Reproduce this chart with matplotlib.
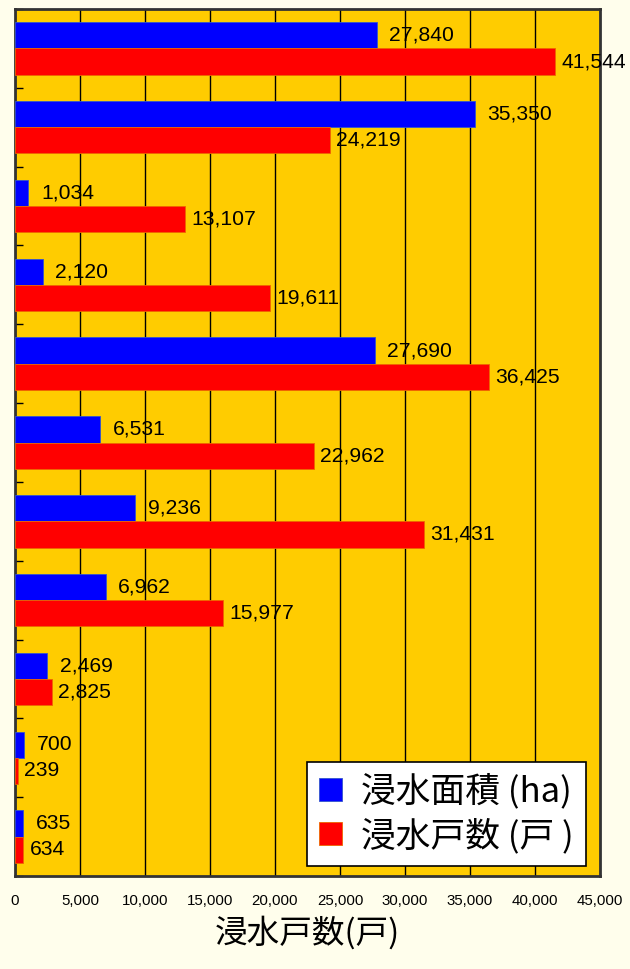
import matplotlib
matplotlib.use("Agg")
import matplotlib.pyplot as plt
import numpy as np

area_ha = [27840, 35350, 1034, 2120, 27690, 6531, 9236, 6962, 2469, 700, 635]
houses = [41544, 24219, 13107, 19611, 36425, 22962, 31431, 15977, 2825, 239, 634]
xticks = [0, 5000, 10000, 15000, 20000, 25000, 30000, 35000, 40000, 45000]
label_area = "浸水面積 (ha)"
label_houses = "浸水戸数 (戸 )"
xlabel = "浸水戸数(戸)"

plt.rcParams['font.family'] = ['Liberation Sans', 'Noto Sans CJK JP', 'DejaVu Sans']

fig = plt.figure(figsize=(6.3, 9.69), dpi=100, facecolor='#FFFEEC')
ax = fig.add_axes([15/630, 1-876/969, 585/630, 867/969])
ax.set_facecolor('#FFCC00')

n = len(area_ha)
y = np.arange(n)
h = 0.333
b1 = ax.barh(y - h/2, area_ha, height=h, color='#0000FF', edgecolor='#3355cc', linewidth=0.6, label=label_area, zorder=3)
b2 = ax.barh(y + h/2, houses, height=h, color='#FF0000', edgecolor='#ee6600', linewidth=0.6, label=label_houses, zorder=3)

ax.set_xlim(0, 45000)
ax.set_ylim(n - 0.5, -0.5)

ax.set_xticks(xticks)
ax.set_xticklabels([f"{v:,}" for v in xticks], fontsize=10.8)
ax.tick_params(axis='x', length=0, pad=13)
ax.set_yticks([])
ax.set_yticks(np.arange(n + 1) - 0.5, minor=True)
ax.tick_params(axis='y', which='minor', direction='in', length=6, width=1, color='black')
ax.grid(axis='x', color='black', linewidth=1, zorder=1)

for s in ax.spines.values():
    s.set_color('#333333')
    s.set_linewidth(2)

ax.bar_label(b1, labels=[f"{v:,}" for v in area_ha], padding=9, fontsize=15.2, zorder=5)
ax.bar_label(b2, labels=[f"{v:,}" for v in houses], padding=4.5, fontsize=15.2, zorder=5)

ax.set_xlabel(xlabel, fontsize=23.5, family=['Noto Sans CJK JP', 'DejaVu Sans'], labelpad=6)

leg = ax.legend(loc='lower right', bbox_to_anchor=((586-15)/585, 10/867), bbox_transform=ax.transAxes,
                prop={'family': ['Noto Sans CJK JP', 'DejaVu Sans'], 'size': 25},
                fancybox=False, framealpha=1, edgecolor='black', handlelength=0.65, handleheight=0.65,
                handletextpad=0.55, borderpad=0.35, labelspacing=0.25, borderaxespad=0)
leg.get_frame().set_linewidth(1.2)
leg.set_zorder(10)

fig.savefig("out.png", dpi=100, facecolor=fig.get_facecolor())
